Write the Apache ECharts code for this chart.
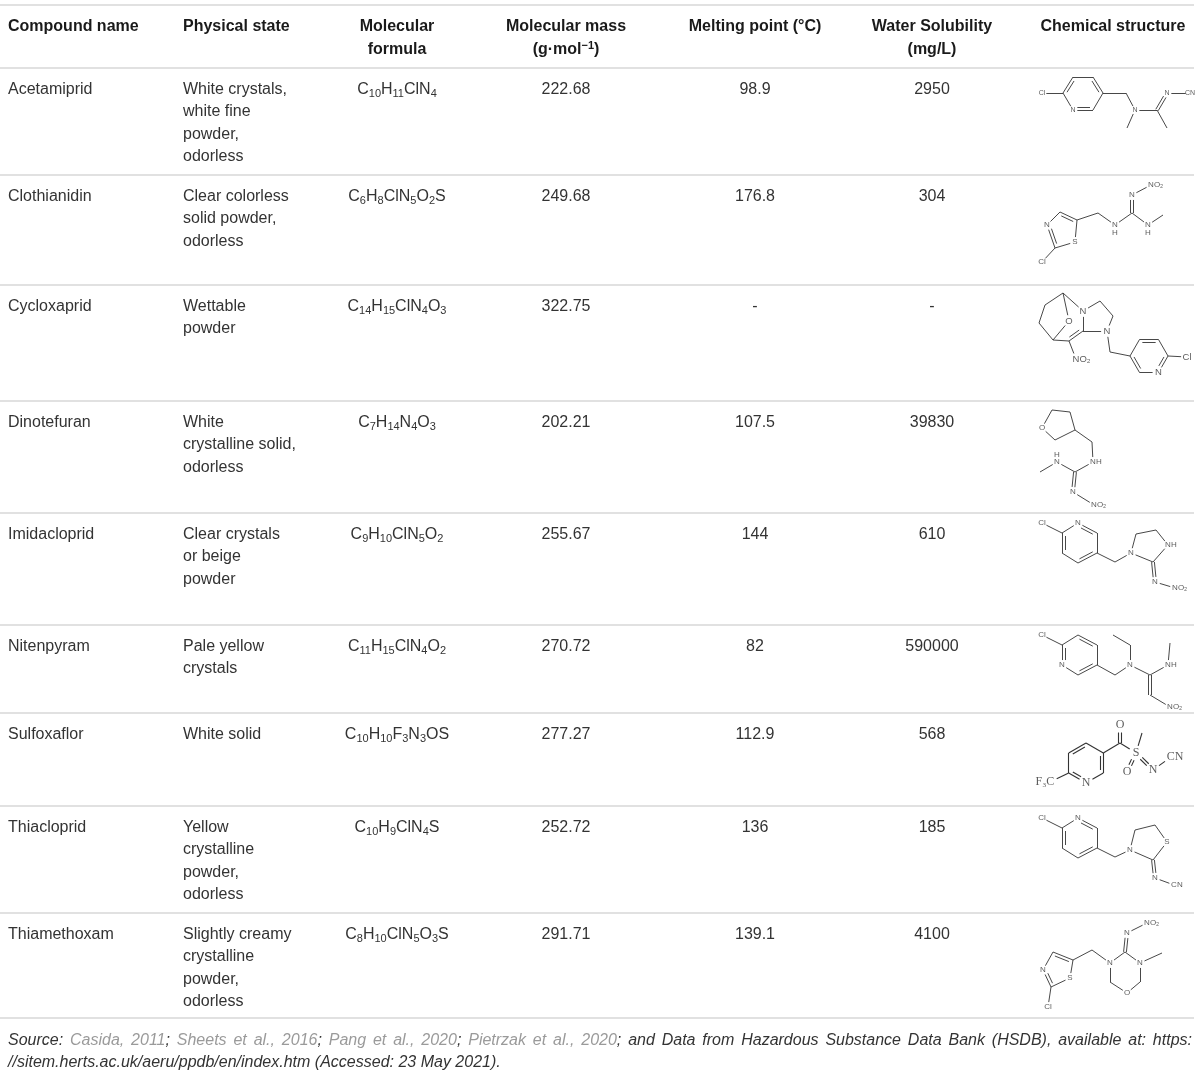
<!DOCTYPE html>
<html>
<head>
<meta charset="utf-8">
<title>Neonicotinoids table</title>
<script src="https://cdn.jsdelivr.net/npm/echarts@6.0.0/dist/echarts.min.js"></script>
<style>
html, body { margin: 0; padding: 0; background: #fff; }
#main { width: 1200px; height: 1072px; }
</style>
</head>
<body>
<div id="main"></div>
<script>
// ---- table values ----
var headers = [
  ['Compound name'], ['Physical state'], ['Molecular', 'formula'], ['Molecular mass', '(g·mol{sup|−1})'],
  ['Melting point (°C)'], ['Water Solubility', '(mg/L)'], ['Chemical structure']
];
var compounds = ['Acetamiprid', 'Clothianidin', 'Cycloxaprid', 'Dinotefuran', 'Imidacloprid',
  'Nitenpyram', 'Sulfoxaflor', 'Thiacloprid', 'Thiamethoxam'];
var physicalStates = [
  'White crystals,\nwhite fine\npowder,\nodorless',
  'Clear colorless\nsolid powder,\nodorless',
  'Wettable\npowder',
  'White\ncrystalline solid,\nodorless',
  'Clear crystals\nor beige\npowder',
  'Pale yellow\ncrystals',
  'White solid',
  'Yellow\ncrystalline\npowder,\nodorless',
  'Slightly creamy\ncrystalline\npowder,\nodorless'
];
var formulas = ['C10H11ClN4', 'C6H8ClN5O2S', 'C14H15ClN4O3', 'C7H14N4O3', 'C9H10ClN5O2',
  'C11H15ClN4O2', 'C10H10F3N3OS', 'C10H9ClN4S', 'C8H10ClN5O3S'];
var masses = ['222.68', '249.68', '322.75', '202.21', '255.67', '270.72', '277.27', '252.72', '291.71'];
var meltingPoints = ['98.9', '176.8', '-', '107.5', '144', '82', '112.9', '136', '139.1'];
var solubilities = ['2950', '304', '-', '39830', '610', '590000', '568', '185', '4100'];
var footerLine1 = 'Source: [Casida, 2011]; [Sheets et al., 2016]; [Pang et al., 2020]; [Pietrzak et al., 2020]; and Data from Hazardous Substance Data Bank (HSDB), available at: https:';
var footerLine2 = '//sitem.herts.ac.uk/aeru/ppdb/en/index.htm (Accessed: 23 May 2021).';

// ---- structures: atoms [x, y, label, align], bonds [a, b, order] ----
var acetamipridAtoms = [[12,25,'Cl'],[33,25],[43,9],[63,9],[73,25],[63,42],[43,42,'N'],[96,25],
  [105,42,'N'],[97,60],[127,42],[137,25,'N'],[137,60],[160,25,'CN']];
var acetamipridBonds = [[0,1],[1,2,2],[2,3],[3,4,2],[4,5],[5,6,2],[6,1],[4,7],[7,8],[8,9],[8,10],
  [10,11,2],[10,12],[11,13]];
var acetamipridRings = [[1,2,3,4,5,6]];

var clothianidinAtoms = [[17,50,'N'],[30,37],[47,45],[45,67,'S'],[25,73],[12,87,'Cl'],[68,38],
  [85,50,'N'],[85,58,'H'],[102,38],[102,20,'N'],[121,10,'NO₂','l'],[118,50,'N'],[118,58,'H'],[133,40]];
var clothianidinBonds = [[0,1],[1,2,2],[2,3],[3,4],[4,0,2],[4,5],[2,6],[6,7],[7,9],[9,10,2],[10,11],
  [9,12],[12,14]];
var clothianidinRings = [[0,1,2,3,4]];

var cycloxapridAtoms = [[33,8],[15,20],[9,38],[23,55],[39,36,'O'],[53,26,'N'],[70,16],[83,31],
  [77,46,'N'],[53,46],[39,56],[46,74,'NO₂','l'],[80,67],[100,71],[109.5,54.5],[128.5,54.5],
  [138,71],[128.5,87.5,'N'],[109.5,87.5],[157,72,'Cl']];
var cycloxapridBonds = [[0,1],[1,2],[2,3],[0,4],[4,3],[0,5],[5,6],[6,7],[7,8],[8,9],[9,5],[9,10,2],
  [10,3],[10,11],[8,12],[12,13],[13,14],[14,15,2],[15,16],[16,17,2],[17,18],[18,13,2],[16,19]];
var cycloxapridRings = [[5,6,7,8,9],[0,5,9,10,3,4],[13,14,15,16,17,18]];

var dinotefuranAtoms = [[12,27,'O'],[22,9],[40,11],[45,29],[25,39],[62,41],[63,61,'NH','l'],[45,71],
  [27,61,'N'],[27,54,'H'],[10,71],[43,91,'N'],[64,104,'NO₂','l']];
var dinotefuranBonds = [[0,1],[1,2],[2,3],[3,4],[4,0],[3,5],[5,6],[6,7],[7,8],[8,10],[7,11,2],[11,12]];
var dinotefuranRings = [[0,1,2,3,4]];

var imidaclopridAtoms = [[12,10,'Cl'],[32,20],[48,10,'N'],[67,20],[67,40],[48,50],[32,40],[85,49],
  [101,40,'N'],[106,21],[126,17],[138,32,'NH','l'],[123,49],[125,69,'N'],[145,75,'NO₂','l']];
var imidaclopridBonds = [[0,1],[1,2],[2,3,2],[3,4],[4,5,2],[5,6],[6,1,2],[4,7],[7,8],[8,9],[9,10],
  [10,11],[11,12],[12,8],[12,13,2],[13,14]];
var imidaclopridRings = [[1,2,3,4,5,6],[8,9,10,11,12]];

var nitenpyramAtoms = [[12,10,'Cl'],[32,20],[48,10],[67,20],[67,40],[48,50],[32,40,'N'],[85,50],
  [100,40,'N'],[100,20],[83,10],[120,50],[138,40,'NH','l'],[140,18],[120,70],[140,82,'NO₂','l']];
var nitenpyramBonds = [[0,1],[1,2],[2,3,2],[3,4],[4,5,2],[5,6],[6,1,2],[4,7],[7,8],[8,9],[9,10],
  [8,11],[11,12],[12,13],[11,14,2],[14,15]];
var nitenpyramRings = [[1,2,3,4,5,6]];

var sulfoxaflorAtoms = [[56,30],[73.3,40],[73.3,60],[56,70,'N'],[38.7,60],[38.7,40],[20,69,'F₃C','r'],
  [90,30],[90,12,'O'],[106,40,'S'],[112,20],[97,59,'O'],[123,57,'N'],[141,44,'CN','l']];
var sulfoxaflorBonds = [[0,1],[1,2,2],[2,3],[3,4,2],[4,5],[5,0,2],[4,6],[1,7],[7,8,2],[7,9],[9,10],
  [9,11,2],[9,12,2],[12,13]];
var sulfoxaflorRings = [[0,1,2,3,4,5]];

var thiaclopridAtoms = [[12,12,'Cl'],[32,22],[48,12,'N'],[67,22],[67,42],[48,52],[32,42],[85,51],
  [100,44,'N'],[105,24],[125,19],[137,36,'S'],[123,54],[125,72,'N'],[144,79,'CN','l']];
var thiaclopridBonds = [[0,1],[1,2],[2,3,2],[3,4],[4,5,2],[5,6],[6,1,2],[4,7],[7,8],[8,9],[9,10],
  [10,11],[11,12],[12,8],[12,13,2],[13,14]];
var thiaclopridRings = [[1,2,3,4,5,6],[8,9,10,11,12]];

var thiamethoxamAtoms = [[13,57,'N'],[23,39],[43,47],[40,65,'S'],[21,74],[18,94,'Cl'],[62,37],
  [80,50,'N'],[95,39],[110,50,'N'],[110,69],[97,80,'O'],[80,69],[97,20,'N'],[117,10,'NO₂','l'],[132,40]];
var thiamethoxamBonds = [[0,1],[1,2,2],[2,3],[3,4],[4,0,2],[4,5],[2,6],[6,7],[7,8],[8,9],[9,10],
  [10,11],[11,12],[12,7],[8,13,2],[13,14],[9,15]];
var thiamethoxamRings = [[0,1,2,3,4],[7,8,9,10,11,12]];

// ---- layout ----
var SANS = '"Liberation Sans", Arial, sans-serif';
var SERIF = '"Liberation Serif", "Times New Roman", serif';
var ruleYs = [5, 68, 175, 285, 401, 513, 625, 713, 806, 913, 1018];
var rowTops = ruleYs.slice(1);
var colX = [8, 183, 397, 566, 755, 932, 1113];
var LH = 22.5;

var molecules = [
  { atoms: acetamipridAtoms, bonds: acetamipridBonds, rings: acetamipridRings, font: 7 },
  { atoms: clothianidinAtoms, bonds: clothianidinBonds, rings: clothianidinRings, font: 8 },
  { atoms: cycloxapridAtoms, bonds: cycloxapridBonds, rings: cycloxapridRings, font: 9.5 },
  { atoms: dinotefuranAtoms, bonds: dinotefuranBonds, rings: dinotefuranRings, font: 8 },
  { atoms: imidaclopridAtoms, bonds: imidaclopridBonds, rings: imidaclopridRings, font: 8 },
  { atoms: nitenpyramAtoms, bonds: nitenpyramBonds, rings: nitenpyramRings, font: 8 },
  { atoms: sulfoxaflorAtoms, bonds: sulfoxaflorBonds, rings: sulfoxaflorRings, font: 12, serif: true },
  { atoms: thiaclopridAtoms, bonds: thiaclopridBonds, rings: thiaclopridRings, font: 8 },
  { atoms: thiamethoxamAtoms, bonds: thiamethoxamBonds, rings: thiamethoxamRings, font: 8 }
];

function bondSegments(m) {
  var segs = [];
  m.bonds.forEach(function (b) {
    var p = m.atoms[b[0]], q = m.atoms[b[1]];
    var dx = q[0] - p[0], dy = q[1] - p[1], len = Math.sqrt(dx * dx + dy * dy);
    var ux = dx / len, uy = dy / len, nx = -uy, ny = ux;
    var gap = m.font * 0.62;
    var s1 = p[2] ? gap : 0, s2 = q[2] ? gap : 0;
    var a = [p[0] + ux * s1, p[1] + uy * s1], c = [q[0] - ux * s2, q[1] - uy * s2];
    if (b[2] !== 2) { segs.push([a, c]); return; }
    var ring = m.rings.filter(function (r) { return r.indexOf(b[0]) >= 0 && r.indexOf(b[1]) >= 0; })[0];
    if (ring) {
      var cx = 0, cy = 0;
      ring.forEach(function (k) { cx += m.atoms[k][0]; cy += m.atoms[k][1]; });
      cx /= ring.length; cy /= ring.length;
      if ((cx - (p[0] + q[0]) / 2) * nx + (cy - (p[1] + q[1]) / 2) * ny < 0) { nx = -nx; ny = -ny; }
      var off = 3, t1 = Math.max(s1, len * 0.15), t2 = Math.max(s2, len * 0.15);
      segs.push([a, c]);
      segs.push([[p[0] + ux * t1 + nx * off, p[1] + uy * t1 + ny * off],
                 [q[0] - ux * t2 + nx * off, q[1] - uy * t2 + ny * off]]);
    } else {
      var o = 1.4;
      segs.push([[a[0] + nx * o, a[1] + ny * o], [c[0] + nx * o, c[1] + ny * o]]);
      segs.push([[a[0] - nx * o, a[1] - ny * o], [c[0] - nx * o, c[1] - ny * o]]);
    }
  });
  return segs;
}

function txt(x, y, text, st) {
  var style = { text: text, fontSize: 16, fontFamily: SANS, fill: '#333',
    align: 'left', textAlign: 'left', verticalAlign: 'middle', textVerticalAlign: 'middle' };
  for (var k in st) style[k] = st[k];
  if (st && st.align) style.textAlign = st.align;
  if (st && st.verticalAlign) style.textVerticalAlign = st.verticalAlign;
  return { type: 'text', x: x, y: y, silent: true, style: style };
}

function chemRich(f) {
  return f.replace(/(\d+)/g, '}{s|$1}{n|').replace(/^/, '{n|').replace(/$/, '}').replace(/\{n\|\}/g, '');
}

var els = [];
ruleYs.forEach(function (y) {
  els.push({ type: 'line', silent: true, shape: { x1: 0, y1: y, x2: 1194, y2: y },
    style: { stroke: '#e1e1e1', lineWidth: 2 } });
});

// header
var headRich = {
  h: { fontSize: 16, fontWeight: 'bold', fontFamily: SANS, fill: '#1a1a1a', lineHeight: 20 },
  sup: { fontSize: 11, fontWeight: 'bold', fontFamily: SANS, fill: '#1a1a1a', lineHeight: 11, verticalAlign: 'top' }
};
headers.forEach(function (h, i) {
  h.forEach(function (line, j) {
    var t = '{h|' + line.replace('{sup|', '}{sup|').replace('})', '}{h|)') + '}';
    els.push(txt(colX[i], 27 + j * 23, t, { align: i < 2 ? 'left' : 'center', rich: headRich }));
  });
});

// body
var formRich = {
  n: { fontSize: 16, fontFamily: SANS, fill: '#333', lineHeight: 20, verticalAlign: 'middle' },
  s: { fontSize: 11, fontFamily: SANS, fill: '#333', lineHeight: 11, verticalAlign: 'bottom' }
};
compounds.forEach(function (name, i) {
  var y0 = rowTops[i] + 21.5;
  els.push(txt(colX[0], y0, name));
  els.push(txt(colX[1], y0 - LH / 2, physicalStates[i], { verticalAlign: 'top', lineHeight: LH }));
  els.push(txt(colX[2], y0, chemRich(formulas[i]), { align: 'center', rich: formRich }));
  els.push(txt(colX[3], y0, masses[i], { align: 'center' }));
  els.push(txt(colX[4], y0, meltingPoints[i], { align: 'center' }));
  els.push(txt(colX[5], y0, solubilities[i], { align: 'center' }));
});

// footer, line 1 is justified
var ctx = document.createElement('canvas').getContext('2d');
ctx.font = 'italic 16px "Liberation Sans"';
var words = [], cur = [], part = '', inRef = false;
function flushPart() { if (part) { cur.push({ t: part, r: inRef }); part = ''; } }
for (var ci = 0; ci < footerLine1.length; ci++) {
  var ch = footerLine1[ci];
  if (ch === '[' || ch === ']') { flushPart(); inRef = ch === '['; }
  else if (ch === ' ') { flushPart(); if (cur.length) words.push(cur); cur = []; }
  else part += ch;
}
flushPart(); if (cur.length) words.push(cur);
var wordsW = 0;
words.forEach(function (w) { w.forEach(function (p) { wordsW += ctx.measureText(p.t).width; }); });
var spW = (1192 - 8 - wordsW) / (words.length - 1);
var foot1 = words.map(function (w) {
  return w.map(function (p) { return '{' + (p.r ? 'r' : 'k') + '|' + p.t + '}'; }).join('');
}).join('{sp| }');
var footRich = {
  k: { fontSize: 16, fontStyle: 'italic', fontFamily: SANS, fill: '#333' },
  r: { fontSize: 16, fontStyle: 'italic', fontFamily: SANS, fill: '#9a9a9a' },
  sp: { fontSize: 16, fontStyle: 'italic', fontFamily: SANS, width: spW }
};
els.push(txt(8, 1041, foot1, { rich: footRich }));
els.push(txt(8, 1063, footerLine2, { fontStyle: 'italic' }));

// structures, one hidden cartesian grid per row
var grids = [], xAxes = [], yAxes = [], series = [];
molecules.forEach(function (m, i) {
  var h = ruleYs[i + 2] - ruleYs[i + 1];
  grids.push({ left: 1030, top: rowTops[i], width: 170, height: h, show: false });
  xAxes.push({ gridIndex: i, type: 'value', min: 0, max: 170, show: false });
  yAxes.push({ gridIndex: i, type: 'value', min: 0, max: h, inverse: true, show: false });
  series.push({
    type: 'lines', coordinateSystem: 'cartesian2d', xAxisIndex: i, yAxisIndex: i, silent: true,
    lineStyle: { color: '#333', width: m.serif ? 1.1 : 0.9, opacity: 1 },
    data: bondSegments(m).map(function (s) { return { coords: s }; })
  });
  var labels = [];
  m.atoms.forEach(function (a) {
    if (!a[2]) return;
    var d = { name: a[2], value: [a[0], a[1]] };
    if (a[3] === 'l') d.label = { align: 'left', offset: [-m.font * 0.36, 0] };
    if (a[3] === 'r') d.label = { align: 'right', offset: [m.font * 0.36, 0] };
    labels.push(d);
  });
  series.push({
    type: 'scatter', xAxisIndex: i, yAxisIndex: i, silent: true, symbolSize: 1,
    itemStyle: { color: 'rgba(0,0,0,0)' },
    label: { show: true, position: 'inside', formatter: '{b}', fontSize: m.font,
      fontFamily: m.serif ? SERIF : SANS, color: '#333' },
    data: labels
  });
});

var chart = echarts.init(document.getElementById('main'));
chart.setOption({
  animation: false,
  backgroundColor: '#fff',
  graphic: { elements: els },
  grid: grids,
  xAxis: xAxes,
  yAxis: yAxes,
  series: series
});
</script>
</body>
</html>
